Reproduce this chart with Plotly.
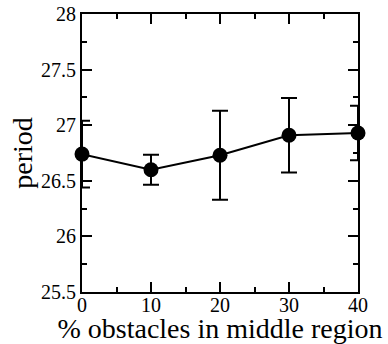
import plotly.graph_objects as go

x_vals = [0, 10, 20, 30, 40]
period = [26.74, 26.60, 26.73, 26.91, 26.93]
err_plus = [0.30, 0.135, 0.40, 0.335, 0.245]
err_minus = [0.30, 0.135, 0.40, 0.335, 0.245]

fig = go.Figure()
fig.add_trace(go.Scatter(
    x=x_vals, y=period, mode="lines+markers",
    line=dict(color="black", width=2),
    marker=dict(color="black", size=15),
    error_y=dict(type="data", array=err_plus, arrayminus=err_minus,
                 color="black", thickness=2, width=8),
    cliponaxis=False,
))

font = "Liberation Serif"
axis_common = dict(
    showline=True, linecolor="black", linewidth=2, mirror="allticks",
    ticks="inside", ticklen=10, tickwidth=1.5, tickcolor="black",
    showgrid=False, zeroline=False, automargin=False,
    tickfont=dict(family=font, size=20, color="black"),
)
fig.update_xaxes(range=[0, 40], dtick=10, ticklabelstandoff=-6,
                 minor=dict(ticks="inside", ticklen=5, dtick=5, tickcolor="black", tickwidth=1.5),
                 title=dict(text="% obstacles in middle region", font=dict(family=font, size=28, color="black"), standoff=6),
                 **axis_common)
fig.update_yaxes(range=[25.5, 28], dtick=0.5,
                 minor=dict(ticks="inside", ticklen=5, dtick=0.25, tickcolor="black", tickwidth=1.5),
                 title=dict(text="period", font=dict(family=font, size=28, color="black"), standoff=0),
                 **axis_common)
fig.update_layout(
    width=388, height=344,
    margin=dict(l=82, r=30, t=14, b=52),
    font=dict(family=font, color="black"),
    plot_bgcolor="white", paper_bgcolor="white",
    showlegend=False,
)
fig.write_html("out.html", config={"displayModeBar": False},
               post_script="document.body.style.margin='0';document.body.style.overflow='hidden';")
